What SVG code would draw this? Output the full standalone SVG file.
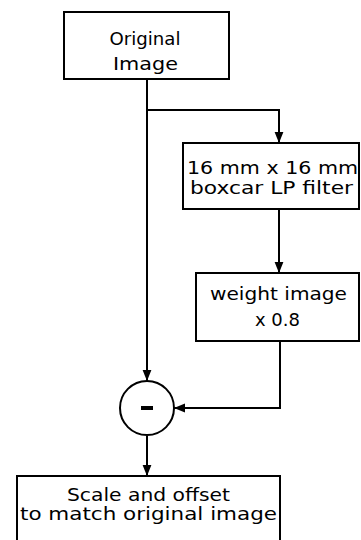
<svg xmlns="http://www.w3.org/2000/svg" width="361" height="540" viewBox="0 0 361 540">
<defs>
<style>
.box{fill:#fff;stroke:#000;stroke-width:2}
.t{font-family:"DejaVu Sans","Liberation Sans",sans-serif;font-size:17px;fill:#000;text-anchor:middle}
.c{fill:none;stroke:#000;stroke-width:2}
</style>
<marker id="ah" viewBox="0 0 10 10" refX="10" refY="5" markerWidth="11" markerHeight="11" markerUnits="userSpaceOnUse" orient="auto">
<path d="M0,1 L10,5 L0,9 Z" fill="#000"/>
</marker>
</defs>
<rect width="361" height="540" fill="#fff"/>
<g id="connectors">
<path class="c" d="M147,79 V381" marker-end="url(#ah)"/>
<path class="c" d="M147,110 H279 V143" marker-end="url(#ah)"/>
<path class="c" d="M279,209 V273" marker-end="url(#ah)"/>
<path class="c" d="M280,341 V408 H174" marker-end="url(#ah)"/>
<path class="c" d="M147,436 V476" marker-end="url(#ah)"/>
</g>
<g id="original">
<rect class="box" x="64" y="12" width="165" height="67"/>
<text class="t" x="145" y="45" textLength="71" lengthAdjust="spacingAndGlyphs">Original</text>
<text class="t" x="145.5" y="70" textLength="65" lengthAdjust="spacingAndGlyphs">Image</text>
</g>
<g id="filter">
<rect class="box" x="183" y="143" width="176" height="66"/>
<text class="t" x="272.5" y="174" textLength="171" lengthAdjust="spacingAndGlyphs">16 mm x 16 mm</text>
<text class="t" x="271.5" y="194" textLength="163" lengthAdjust="spacingAndGlyphs">boxcar LP filter</text>
</g>
<g id="weight">
<rect class="box" x="196" y="273" width="163" height="68"/>
<text class="t" x="278.5" y="300" textLength="137" lengthAdjust="spacingAndGlyphs">weight image</text>
<text class="t" x="277.5" y="326" textLength="45" lengthAdjust="spacingAndGlyphs">x 0.8</text>
</g>
<g id="subtract">
<circle cx="147" cy="408" r="27" fill="#fff" stroke="#000" stroke-width="2"/>
<rect x="141" y="406" width="12" height="4" fill="#000"/>
</g>
<g id="scale">
<rect class="box" x="17" y="476" width="263" height="70"/>
<text class="t" x="148.5" y="501" textLength="163" lengthAdjust="spacingAndGlyphs">Scale and offset</text>
<text class="t" x="148.5" y="520" textLength="257" lengthAdjust="spacingAndGlyphs">to match original image</text>
</g>
</svg>
